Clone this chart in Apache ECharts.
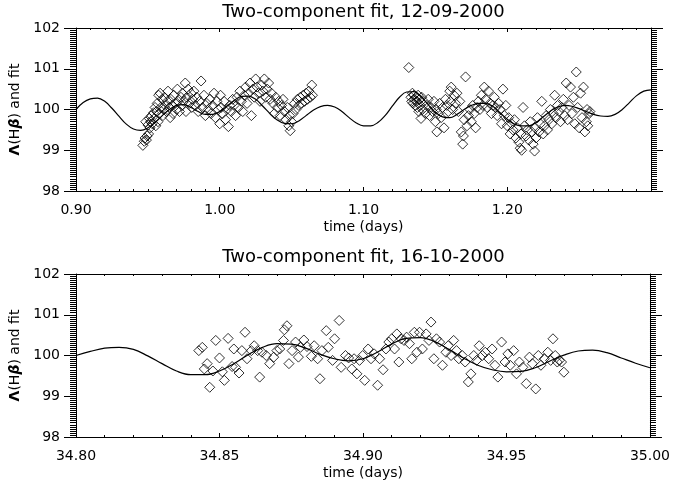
<!DOCTYPE html>
<html><head><meta charset="utf-8">
<script src="https://cdn.jsdelivr.net/npm/echarts@6/dist/echarts.min.js"></script>
<style>html,body{margin:0;padding:0;background:#fff}#c{width:673px;height:484px}</style>
</head><body><div id="c"></div>
<script>
const FONT = 'DejaVu Sans';
const topTitle = 'Two-component fit, 12-09-2000';
const botTitle = 'Two-component fit, 16-10-2000';
const xName = 'time (days)';
const yRange = [98, 102];
const yStep = 1;
const topXRange = [0.90, 1.30];
const topXStep = 0.1;
const botXRange = [34.80, 35.00];
const botXStep = 0.05;

// observed points, night 1 (12-09-2000), first block
const top1 = [
[0.9465,99.12],[0.9475,99.22],[0.948,99.30],[0.9485,99.70],[0.949,99.25],[0.9495,99.35],[0.950,99.62],[0.9505,99.40],
[0.951,99.78],[0.9515,99.55],[0.952,99.70],[0.9525,99.85],[0.953,99.65],[0.954,99.92],[0.9545,99.78],[0.955,100.05],
[0.9555,99.60],[0.956,99.95],[0.9565,100.15],[0.957,99.70],[0.9575,100.35],[0.958,99.90],[0.9585,100.40],[0.959,100.05],
[0.960,100.25],[0.9605,99.85],[0.961,100.00],[0.9615,100.30],[0.962,100.10],[0.963,99.95],[0.9635,100.20],[0.964,100.45],
[0.965,100.05],[0.9655,99.80],[0.966,100.25],[0.967,100.10],[0.9675,99.90],[0.968,100.35],[0.969,100.15],[0.970,100.00],
[0.9705,100.50],[0.971,100.20],[0.972,99.95],[0.973,100.30],[0.9735,100.10],[0.974,100.40],[0.975,100.20],[0.976,100.65],
[0.9765,99.95],[0.977,100.30],[0.978,100.50],[0.979,100.15],[0.980,100.40],[0.9805,100.05],[0.981,100.25],[0.982,100.45],
[0.983,100.10],[0.984,100.30],[0.985,99.95],[0.986,100.20],[0.987,100.70],[0.988,100.05],[0.989,100.35],[0.990,99.85],
[0.991,100.15],[0.992,100.00],[0.993,100.25],[0.994,99.90],[0.995,100.10],[0.996,100.40],[0.997,99.80],[0.998,100.20],
[0.999,100.00],[1.000,99.65],[1.0005,100.35],[1.001,100.05],[1.002,99.90],[1.003,100.20],[1.004,99.75],[1.005,100.00],
[1.006,99.58],[1.007,100.10],[1.008,99.95],[1.009,100.25],[1.010,100.10],[1.011,99.85],[1.012,100.30],[1.013,100.05],
[1.014,100.45],[1.015,100.20],[1.016,99.95],[1.017,100.35],[1.018,100.55],[1.019,100.15],[1.020,100.40],[1.021,100.65],
[1.022,99.85],[1.023,100.50],[1.024,100.30],[1.025,100.75],[1.026,100.55],[1.027,100.40],[1.028,100.20],[1.029,100.60],
[1.030,100.45],[1.031,100.75],[1.032,100.30],[1.033,100.50],[1.034,100.65],[1.035,100.25],[1.036,100.40],[1.037,100.15],
[1.038,99.90],[1.039,100.30],[1.040,100.05],[1.041,100.20],[1.042,99.85],[1.043,100.10],[1.044,100.25],[1.045,99.95],
[1.046,99.75],[1.047,100.05],[1.048,99.60],[1.0485,99.85],[1.049,99.48],[1.050,99.70],[1.051,99.90],[1.052,100.15],
[1.053,100.00],[1.054,100.25],[1.055,100.10],[1.056,100.30],[1.057,100.15],[1.058,100.35],[1.059,100.20],[1.060,100.40],
[1.061,100.25],[1.062,100.45],[1.063,100.30],[1.064,100.60],[1.0645,100.35]
];
// observed points, night 1, second block
const top2 = [
[1.1315,101.03],[1.133,100.30],[1.1335,100.20],[1.134,100.40],[1.1345,100.15],[1.135,100.35],[1.1355,100.25],[1.136,100.10],
[1.1365,100.30],[1.137,100.20],[1.1375,100.05],[1.138,100.35],[1.1385,99.95],[1.139,100.25],[1.1395,100.10],[1.140,99.78],
[1.1405,100.30],[1.141,100.00],[1.142,100.20],[1.143,99.90],[1.144,100.10],[1.145,100.25],[1.146,99.85],[1.147,100.05],
[1.148,99.95],[1.149,100.20],[1.150,99.70],[1.1505,100.00],[1.151,99.45],[1.152,99.90],[1.153,100.15],[1.154,99.80],
[1.155,100.05],[1.156,99.55],[1.157,100.25],[1.158,100.10],[1.159,99.95],[1.160,100.45],[1.1605,100.20],[1.161,100.55],
[1.162,100.00],[1.163,100.35],[1.164,100.15],[1.165,100.40],[1.166,99.95],[1.167,100.20],[1.168,99.45],[1.169,99.15],
[1.1695,99.35],[1.170,99.75],[1.171,100.80],[1.172,99.60],[1.173,99.85],[1.174,100.00],[1.175,99.70],[1.176,100.10],
[1.177,99.90],[1.178,99.55],[1.179,100.05],[1.180,100.20],[1.181,100.00],[1.182,100.35],[1.183,100.10],[1.184,100.55],
[1.185,100.25],[1.186,100.05],[1.187,100.45],[1.188,100.15],[1.189,99.90],[1.190,100.10],[1.191,100.30],[1.192,100.05],
[1.193,99.85],[1.194,100.15],[1.195,100.00],[1.196,99.65],[1.197,100.50],[1.198,99.85],[1.199,100.10],[1.200,99.60],
[1.201,99.80],[1.202,99.40],[1.203,99.65],[1.204,99.50],[1.205,99.75],[1.206,99.30],[1.207,99.55],[1.208,99.20],
[1.209,99.05],[1.2095,99.40],[1.210,99.00],[1.211,100.05],[1.212,99.60],[1.213,99.35],[1.214,99.50],[1.215,99.25],
[1.216,99.70],[1.217,99.45],[1.218,99.15],[1.219,98.98],[1.2195,99.55],[1.220,99.30],[1.221,99.80],[1.222,99.45],
[1.223,99.65],[1.224,100.20],[1.225,99.40],[1.226,99.60],[1.227,99.85],[1.228,99.50],[1.229,99.75],[1.230,100.00],
[1.231,99.65],[1.232,99.90],[1.233,100.35],[1.234,99.80],[1.235,100.10],[1.236,99.95],[1.237,99.70],[1.238,100.05],
[1.239,100.25],[1.240,99.85],[1.241,100.65],[1.242,99.75],[1.243,100.10],[1.244,100.55],[1.245,99.90],[1.246,100.30],
[1.247,99.65],[1.248,100.92],[1.249,100.05],[1.250,99.55],[1.251,100.40],[1.252,99.80],[1.253,100.55],[1.254,99.45],
[1.255,99.70],[1.2555,100.00],[1.256,99.60],[1.257,99.90],[1.2575,99.95]
];
// fit curve, night 1
const topFit = [
[0.900,100.00],[0.905,100.17],[0.910,100.26],[0.915,100.28],[0.920,100.20],[0.925,100.03],[0.930,99.83],[0.935,99.64],
[0.940,99.52],[0.945,99.49],[0.950,99.55],[0.955,99.68],[0.960,99.85],[0.965,100.00],[0.970,100.10],[0.975,100.12],
[0.980,100.05],[0.985,99.95],[0.990,99.88],[0.995,99.88],[1.000,99.95],[1.005,100.08],[1.010,100.22],[1.015,100.32],
[1.020,100.33],[1.025,100.25],[1.030,100.08],[1.035,99.90],[1.040,99.74],[1.045,99.66],[1.050,99.65],[1.055,99.72],
[1.060,99.85],[1.065,99.98],[1.070,100.07],[1.075,100.10],[1.080,100.06],[1.085,99.95],[1.090,99.80],[1.095,99.67],
[1.100,99.60],[1.105,99.60],[1.110,99.68],[1.115,99.85],[1.120,100.08],[1.125,100.30],[1.130,100.43],[1.135,100.44],
[1.140,100.32],[1.145,100.12],[1.150,99.93],[1.155,99.82],[1.160,99.80],[1.165,99.88],[1.170,100.00],[1.175,100.10],
[1.180,100.15],[1.185,100.15],[1.190,100.08],[1.195,99.92],[1.200,99.76],[1.205,99.64],[1.210,99.60],[1.215,99.60],
[1.220,99.68],[1.225,99.82],[1.230,99.96],[1.235,100.06],[1.240,100.10],[1.245,100.08],[1.250,100.02],[1.255,99.95],
[1.260,99.88],[1.265,99.84],[1.270,99.83],[1.275,99.88],[1.280,100.00],[1.285,100.17],[1.290,100.34],[1.295,100.45],
[1.300,100.48]
];
// observed points, night 2 (16-10-2000)
const bot = [
[34.8428,100.12],[34.8440,100.20],[34.8447,99.67],[34.8457,99.80],[34.8466,99.22],[34.8477,99.62],[34.8487,100.37],[34.8500,99.94],
[34.8510,99.60],[34.8517,99.39],[34.8530,100.42],[34.8544,99.73],[34.8550,100.16],[34.8556,99.71],[34.8568,99.57],[34.8578,100.12],
[34.8589,100.57],[34.8596,99.92],[34.8611,100.12],[34.8621,100.24],[34.8633,100.12],[34.8640,99.47],[34.8648,100.08],[34.8663,100.00],
[34.8675,99.80],[34.8689,99.96],[34.8700,100.12],[34.8710,100.16],[34.8723,100.37],[34.8726,100.63],[34.8735,100.73],[34.8742,99.80],
[34.8753,100.12],[34.8765,100.33],[34.8775,99.96],[34.8782,100.20],[34.8794,100.38],[34.8805,100.22],[34.8820,99.98],[34.8830,100.24],
[34.8842,99.92],[34.8850,99.43],[34.8857,100.12],[34.8872,100.61],[34.8879,100.20],[34.8894,99.88],[34.8901,100.41],[34.8917,100.86],
[34.8924,99.71],[34.8939,100.00],[34.8950,99.94],[34.8961,99.67],[34.8969,99.92],[34.8979,99.55],[34.8988,99.88],[34.8999,100.00],
[34.9006,99.39],[34.9018,100.16],[34.9028,99.92],[34.9039,100.04],[34.9051,99.27],[34.9058,99.92],[34.9070,99.65],[34.9080,100.16],
[34.9090,100.33],[34.9100,100.41],[34.9110,100.16],[34.9118,100.53],[34.9125,99.84],[34.9133,100.41],[34.9143,100.37],[34.9152,100.45],
[34.9162,100.29],[34.9170,99.92],[34.9179,100.57],[34.9188,100.08],[34.9197,100.57],[34.9207,100.16],[34.9220,100.53],[34.9230,100.37],
[34.9237,100.82],[34.9247,99.92],[34.9256,100.41],[34.9267,100.33],[34.9277,99.76],[34.9289,100.08],[34.9297,100.24],[34.9307,100.00],
[34.9316,100.37],[34.9326,100.12],[34.9334,99.92],[34.9346,100.00],[34.9356,99.84],[34.9367,99.35],[34.9376,99.55],[34.9386,100.00],
[34.9396,99.88],[34.9405,100.24],[34.9416,100.00],[34.9426,100.08],[34.9438,99.92],[34.9450,100.16],[34.9460,99.76],[34.9470,99.47],
[34.9483,100.33],[34.9495,99.84],[34.9505,100.04],[34.9513,99.76],[34.9525,100.12],[34.9535,99.55],[34.9545,99.84],[34.9557,99.71],
[34.9569,99.31],[34.9580,99.96],[34.9590,99.80],[34.9602,99.18],[34.9611,100.00],[34.9620,99.76],[34.9632,99.92],[34.9644,100.08],
[34.9654,99.88],[34.9662,100.41],[34.9670,100.00],[34.9677,99.84],[34.9684,99.88],[34.9692,99.84],[34.9700,99.59]
];
// fit curve, night 2
const botFit = [
[34.800,100.00],[34.805,100.10],[34.810,100.18],[34.815,100.20],[34.820,100.15],[34.825,99.99],[34.830,99.80],[34.835,99.62],
[34.840,99.53],[34.845,99.53],[34.850,99.62],[34.855,99.80],[34.860,100.02],[34.865,100.20],[34.870,100.29],[34.875,100.28],
[34.880,100.18],[34.885,100.03],[34.890,99.92],[34.895,99.87],[34.900,99.92],[34.905,100.08],[34.910,100.28],[34.915,100.42],
[34.920,100.44],[34.925,100.34],[34.930,100.15],[34.935,99.94],[34.940,99.76],[34.945,99.65],[34.950,99.60],[34.955,99.61],
[34.960,99.70],[34.965,99.86],[34.970,100.01],[34.975,100.11],[34.980,100.13],[34.985,100.07],[34.990,99.94],[34.995,99.81],
[35.000,99.70]
];

const black = '#000';
const txt = {fontFamily: FONT, fontSize: 14, color: black};

function xAxes(grid, range, step, minorN) {
  const common = {
    type: 'value', gridIndex: grid, min: range[0], max: range[1], interval: step,
    axisLine: {show: true, onZero: false, lineStyle: {color: black, width: 1}},
    axisTick: {show: true, inside: true, length: 4, lineStyle: {color: black}},
    minorTick: {show: true, splitNumber: minorN, length: 2, lineStyle: {color: black}},
    splitLine: {show: false}, minorSplitLine: {show: false}
  };
  return [
    Object.assign({}, common, {position: 'bottom',
      name: xName, nameLocation: 'middle', nameGap: 29, nameTextStyle: txt,
      axisLabel: Object.assign({margin: 12, showMaxLabel: range === botXRange, formatter: v => v.toFixed(2)}, txt)}),
    Object.assign({}, common, {position: 'top', axisLabel: {show: false}})
  ];
}
function yAxes(grid) {
  const common = {
    type: 'value', gridIndex: grid, min: yRange[0], max: yRange[1], interval: yStep,
    axisLine: {show: true, onZero: false, lineStyle: {color: black, width: 1}},
    axisTick: {show: true, inside: false, length: 12, lineStyle: {color: black}},
    minorTick: {show: true, splitNumber: 20, length: 6, lineStyle: {color: black}},
    splitLine: {show: false}, minorSplitLine: {show: false}
  };
  return [
    Object.assign({}, common, {position: 'left',
      name: '{g|Λ}(H{b|β}) and fit', nameLocation: 'middle', nameRotate: 90, nameGap: 48,
      nameTextStyle: Object.assign({}, txt, {rich: {
        g: {fontFamily: FONT, fontSize: 14, fontWeight: 'bold', color: black},
        b: {fontFamily: FONT, fontSize: 14, fontWeight: 'bold', fontStyle: 'italic', color: black}}}),
      axisLabel: Object.assign({margin: 16, formatter: v => String(v)}, txt)}),
    Object.assign({}, common, {position: 'right', axisLabel: {show: false}})
  ];
}

const scatterStyle = {color: 'transparent', borderColor: black, borderWidth: 1};
const option = {
  backgroundColor: '#fff',
  animation: false,
  graphic: [
    {type: 'text', x: 363.5, y: 12, style: {text: topTitle, fontFamily: FONT, fontSize: 18, fill: black, align: 'center', verticalAlign: 'middle'}},
    {type: 'text', x: 363.5, y: 257, style: {text: botTitle, fontFamily: FONT, fontSize: 18, fill: black, align: 'center', verticalAlign: 'middle'}}
  ],
  grid: [
    {left: 76, right: 22, top: 28, height: 163},
    {left: 76, right: 22, top: 274, height: 163}
  ],
  xAxis: xAxes(0, topXRange, topXStep, 10).concat(xAxes(1, botXRange, botXStep, 5)),
  yAxis: yAxes(0).concat(yAxes(1)),
  series: [
    {type: 'line', xAxisIndex: 0, yAxisIndex: 0, data: topFit, showSymbol: false, smooth: 0.4,
     lineStyle: {color: black, width: 1.2}, silent: true},
    {type: 'scatter', xAxisIndex: 0, yAxisIndex: 0, data: top1.concat(top2), symbol: 'diamond', symbolSize: 10, itemStyle: scatterStyle},
    {type: 'line', xAxisIndex: 2, yAxisIndex: 2, data: botFit, showSymbol: false, smooth: 0.4,
     lineStyle: {color: black, width: 1.2}, silent: true},
    {type: 'scatter', xAxisIndex: 2, yAxisIndex: 2, data: bot, symbol: 'diamond', symbolSize: 10, itemStyle: scatterStyle}
  ]
};
const chart = echarts.init(document.getElementById('c'), null, {renderer: 'canvas'});
chart.setOption(option);
</script></body></html>
